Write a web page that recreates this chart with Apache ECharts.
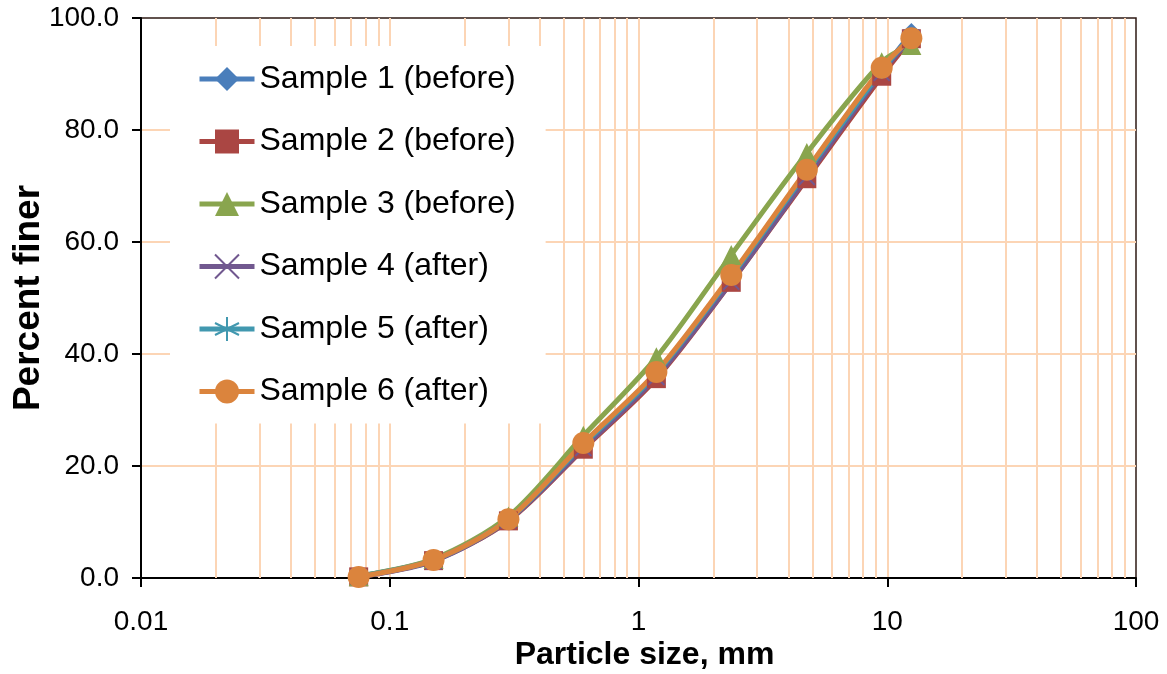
<!DOCTYPE html>
<html>
<head>
<meta charset="utf-8">
<script src="https://cdn.jsdelivr.net/npm/echarts@6/dist/echarts.min.js"></script>
<style>
html,body{margin:0;padding:0;background:#fff;}
#chart{width:1167px;height:674px;}
</style>
</head>
<body>
<div id="chart"></div>
<script>
// Sieve sizes (mm)
const sizes = [0.075, 0.15, 0.3, 0.6, 1.18, 2.36, 4.75, 9.5, 12.5];
// Percent finer for each sample
const sample1 = [0.3, 3.3, 10.6, 23.6, 36.3, 53.5, 72.0, 90.5, 97.3];
const sample2 = [0.2, 3.1, 10.2, 23.0, 35.6, 52.8, 71.3, 89.6, 96.3];
const sample3 = [0.3, 3.4, 11.0, 25.4, 39.4, 57.7, 75.9, 92.1, 95.2];
const sample4 = [0.2, 3.0, 10.3, 23.2, 35.9, 52.9, 71.6, 90.2, 96.5];
const sample5 = [0.3, 3.2, 10.5, 23.8, 36.5, 53.8, 72.5, 90.6, 96.8];
const sample6 = [0.2, 3.2, 10.5, 24.1, 36.8, 54.1, 72.9, 91.1, 96.4];
const seriesNames = ['Sample 1 (before)', 'Sample 2 (before)', 'Sample 3 (before)', 'Sample 4 (after)', 'Sample 5 (after)', 'Sample 6 (after)'];
// Minor vertical gridline positions (log axis)
const minorGrid = [0.02,0.03,0.04,0.05,0.06,0.07,0.08,0.09,
                   0.2,0.3,0.4,0.5,0.6,0.7,0.8,0.9,
                   2,3,4,5,6,7,8,9,
                   20,30,40,50,60,70,80,90];

const allData = [sample1, sample2, sample3, sample4, sample5, sample6];
const colors = ['#4A7EBB', '#AA4643', '#89A54E', '#71588F', '#4198AF', '#DB843D'];
const symbols = [
  'diamond', 'rect', 'triangle',
  'path://M0,0L10,10M10,0L0,10',
  'path://M5,0L5,10M0.7,2.5L9.3,7.5M9.3,2.5L0.7,7.5',
  'circle'
];
const symbolSizes = [20, 19, 20, 16, 16, 22];
const gridColor = '#FCD5B5';
const FONT = 'Liberation Sans, Arial, sans-serif';

const series = allData.map((vals, i) => {
  const isPath = symbols[i].indexOf('path://') === 0;
  return {
    name: seriesNames[i],
    type: 'line',
    smooth: 0.3,
    z: 2,
    data: sizes.map((x, k) => [x, vals[k]]),
    symbol: symbols[i],
    symbolSize: symbolSizes[i],
    showAllSymbol: true,
    lineStyle: { color: colors[i], width: 5 },
    itemStyle: isPath
      ? { color: colors[i], borderColor: colors[i], borderWidth: 2 }
      : { color: colors[i], borderWidth: 0 },
    emphasis: { disabled: true },
    animation: false
  };
});

series.unshift({
  name: 'grid-minor',
  type: 'line',
  data: [],
  z: 1,
  silent: true,
  animation: false,
  markLine: {
    silent: true,
    z: 1,
    symbol: ['none', 'none'],
    label: { show: false },
    lineStyle: { color: gridColor, width: 2, type: 'solid' },
    data: minorGrid.map(v => ({ xAxis: v })),
    animation: false
  }
});

const chart = echarts.init(document.getElementById('chart'), null, { renderer: 'canvas' });
chart.setOption({
  backgroundColor: '#fff',
  animation: false,
  grid: {
    left: 141, right: 31, top: 18, bottom: 96,
    containLabel: false,
    outerBoundsMode: 'none',
    show: true, borderColor: '#2E1A14', borderWidth: 1.5, backgroundColor: 'transparent'
  },
  legend: {
    data: seriesNames,
    orient: 'vertical',
    left: 170, top: 46,
    z: 10,
    backgroundColor: '#fff',
    padding: [17, 30, 16, 27],
    itemWidth: 55,
    itemHeight: 30,
    itemGap: 30.5,
    lineStyle: { width: 5 },
    textStyle: { fontFamily: FONT, fontSize: 32, color: '#000', lineHeight: 32 },
    selectedMode: false
  },
  xAxis: {
    type: 'log',
    logBase: 10,
    min: 0.01,
    max: 100,
    name: 'Particle size, mm',
    nameLocation: 'middle',
    nameGap: 61,
    nameMoveOverlap: false,
    nameTextStyle: { fontFamily: FONT, fontSize: 32, fontWeight: 'bold', color: '#000', padding: [0, 0, 0, 12] },
    axisLine: { show: true, onZero: false, lineStyle: { color: '#000', width: 2 } },
    axisTick: { show: true, length: 9, lineStyle: { color: '#000', width: 2 } },
    axisLabel: { fontFamily: FONT, fontSize: 28, color: '#000', margin: 30,
      formatter: v => String(v) },
    splitLine: { show: true, showMinLine: false, showMaxLine: false, lineStyle: { color: gridColor, width: 2 } },
    minorTick: { show: false },
    minorSplitLine: { show: false }
  },
  yAxis: {
    type: 'value',
    min: 0, max: 100, interval: 20,
    name: 'Percent finer',
    nameLocation: 'middle',
    nameGap: 94,
    nameMoveOverlap: false,
    nameRotate: 90,
    nameTextStyle: { fontFamily: FONT, fontSize: 37, fontWeight: 'bold', color: '#000' },
    axisLine: { show: true, lineStyle: { color: '#000', width: 2 } },
    axisTick: { show: true, length: 9, lineStyle: { color: '#000', width: 2 } },
    axisLabel: { fontFamily: FONT, fontSize: 28, color: '#000', margin: 22,
      formatter: v => v.toFixed(1) },
    splitLine: { show: true, showMinLine: false, showMaxLine: false, lineStyle: { color: gridColor, width: 2 } }
  },
  series: series
});
</script>
</body>
</html>
